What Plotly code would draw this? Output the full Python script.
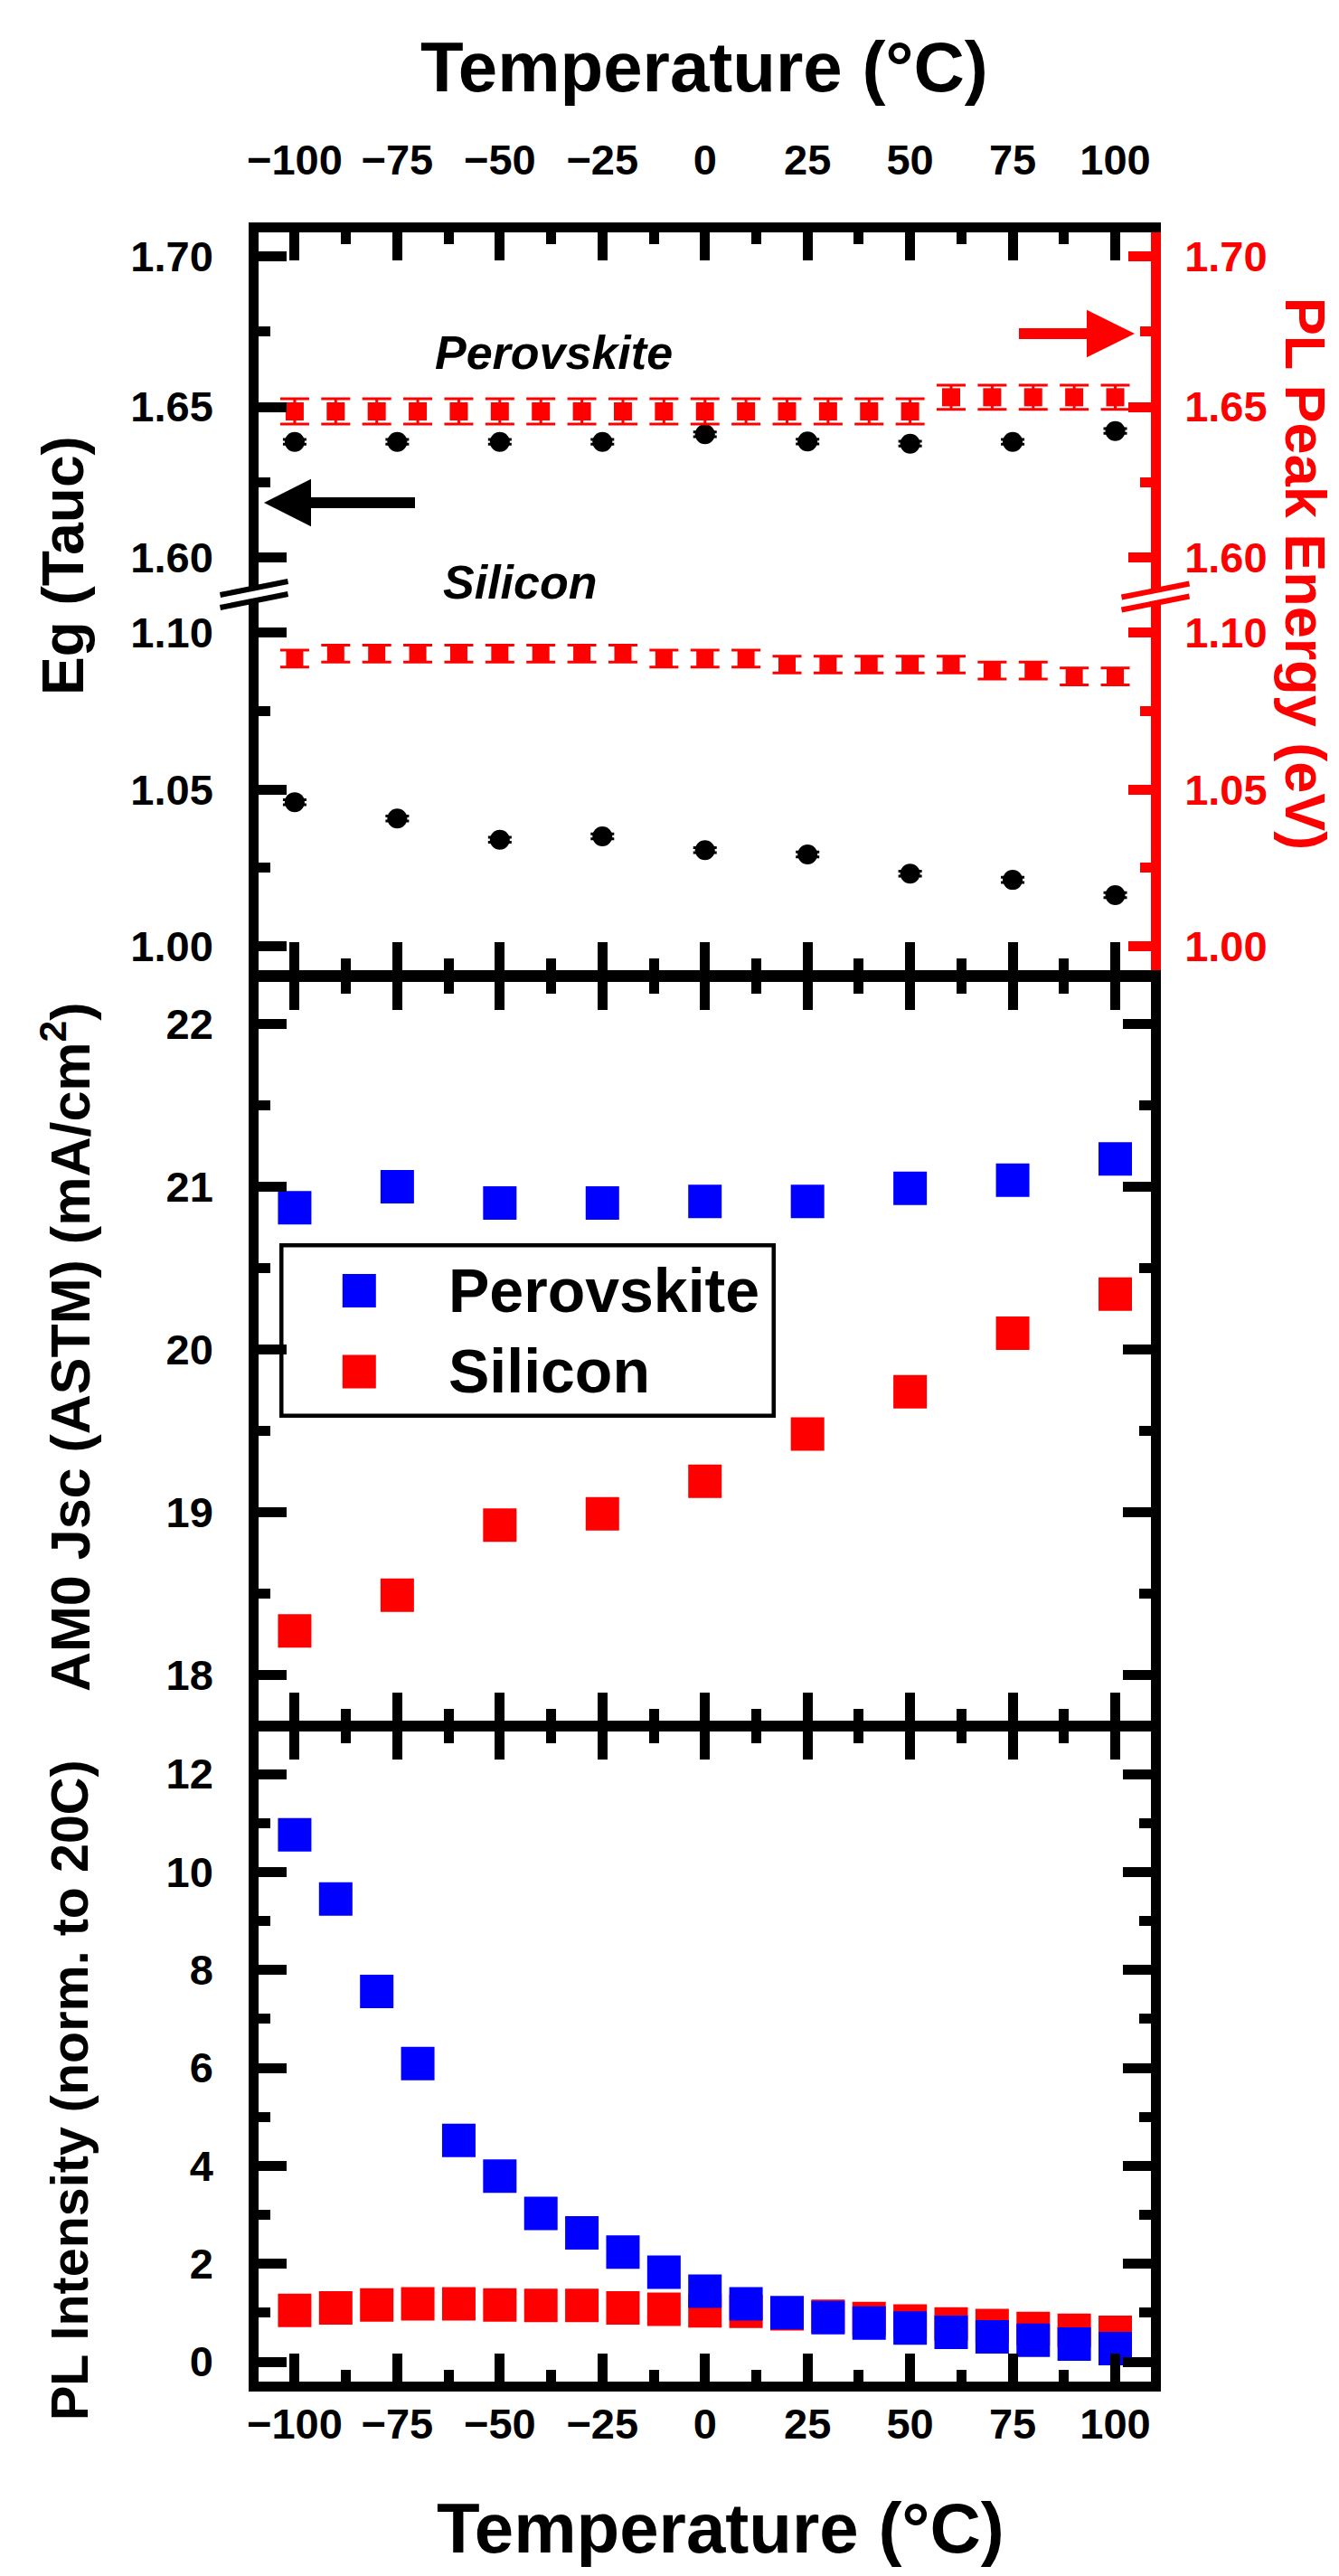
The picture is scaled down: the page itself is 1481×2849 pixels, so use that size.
import plotly.graph_objects as go

# ---------------- data ----------------
temp_coarse = [-100, -75, -50, -25, 0, 25, 50, 75, 100]
temp_fine = [-100, -90, -80, -70, -60, -50, -40, -30, -20, -10, 0,
             10, 20, 30, 40, 50, 60, 70, 80, 90, 100]

eg_tauc_perovskite = [1.6384, 1.6384, 1.6384, 1.6384, 1.6409, 1.6385, 1.6378, 1.6384, 1.6420]
eg_tauc_perovskite_err = [0.0008, 0.0008, 0.0008, 0.0008, 0.0008, 0.0008, 0.0008, 0.0008, 0.0008]
eg_tauc_silicon = [1.0460, 1.0408, 1.0340, 1.0351, 1.0307, 1.0293, 1.0232, 1.0212, 1.0163]
eg_tauc_silicon_err = [0.0008, 0.0008, 0.0008, 0.0008, 0.0008, 0.0008, 0.0008, 0.0008, 0.0008]

pl_peak_perovskite = [1.6485, 1.6485, 1.6485, 1.6485, 1.6485, 1.6485, 1.6485, 1.6485, 1.6485,
                      1.6485, 1.6485, 1.6485, 1.6485, 1.6485, 1.6485, 1.6485,
                      1.6532, 1.6532, 1.6532, 1.6532, 1.6532]
pl_peak_perovskite_err = [0.0042, 0.0042, 0.0042, 0.0042, 0.0042, 0.0042, 0.0042, 0.0042, 0.0042,
                          0.0042, 0.0042, 0.0042, 0.0042, 0.0042, 0.0042, 0.0042,
                          0.0040, 0.0040, 0.0040, 0.0040, 0.0040]
pl_peak_silicon = [1.0918, 1.0934, 1.0934, 1.0934, 1.0934, 1.0934, 1.0934, 1.0934, 1.0934,
                   1.0918, 1.0918, 1.0918, 1.0899, 1.0899, 1.0899, 1.0899, 1.0899,
                   1.0880, 1.0880, 1.0861, 1.0861]
pl_peak_silicon_err = [0.0027, 0.0027, 0.0027, 0.0027, 0.0027, 0.0027, 0.0027, 0.0027, 0.0027,
                       0.0027, 0.0027, 0.0027, 0.0027, 0.0027, 0.0027, 0.0027, 0.0027,
                       0.0027, 0.0027, 0.0027, 0.0027]

jsc_perovskite = [20.87, 21.00, 20.90, 20.90, 20.91, 20.91, 20.99, 21.04, 21.17]
jsc_silicon = [18.27, 18.49, 18.92, 18.99, 19.19, 19.48, 19.74, 20.10, 20.34]

pl_int_perovskite = [10.76, 9.45, 7.56, 6.09, 4.52, 3.79, 3.03, 2.63, 2.24, 1.83, 1.44,
                     1.18, 1.00, 0.90, 0.79, 0.69, 0.60, 0.51, 0.44, 0.36, 0.27]
pl_int_silicon = [1.05, 1.10, 1.16, 1.18, 1.18, 1.16, 1.15, 1.15, 1.10, 1.07, 1.04,
                  1.03, 0.98, 0.93, 0.88, 0.83, 0.77, 0.74, 0.68, 0.64, 0.60]

legend_labels = ["Perovskite", "Silicon"]

# ---------------- geometry / style ----------------
FIG_W, FIG_H = 1481, 2849
L, R, T, B = 286, 1273, 257, 2634
W, H = R - L, B - T

def X(px):
    return (px - L) / W

def Y(py):
    return (B - py) / H

def dom(p_top, p_bot):
    return [Y(p_bot), Y(p_top)]

FONT = "Liberation Sans, Arial, sans-serif"
RED = "#ff0000"
BLUE = "#0000ff"
LW = 10.5
TW = 10.5
LEFT_STANDOFF = 30

def axis_style(color="black", major_len=31, minor_len=13, minor_dtick=None, **kw):
    d = dict(showline=True, linecolor=color, linewidth=LW, ticks="inside",
             ticklen=major_len, tickwidth=TW, tickcolor=color,
             showgrid=False, zeroline=False, automargin=False,
             tickfont=dict(family=FONT, size=47, color=color, weight="bold"),
             minor=dict(ticks="inside", ticklen=minor_len, tickwidth=TW,
                        tickcolor=color, dtick=minor_dtick, showgrid=False))
    d.update(kw)
    return d

x_range = [-108.8, 108.7]
y_up_range = [1.5879, 1.7079]
y_lo_range = [0.99238, 1.1124]
y_mid_range = [17.719, 22.258]
y_bot_range = [-0.406, 12.868]

fig = go.Figure()

# top panel, upper segment
fig.add_trace(go.Scatter(x=temp_fine, y=pl_peak_perovskite, xaxis="x", yaxis="y3",
                         mode="markers",
                         marker=dict(symbol="square", size=20, color=RED, line=dict(width=0)),
                         error_y=dict(type="data", array=pl_peak_perovskite_err, color=RED,
                                      thickness=3, width=16)))
fig.add_trace(go.Scatter(x=temp_coarse, y=eg_tauc_perovskite, xaxis="x", yaxis="y",
                         mode="markers",
                         marker=dict(symbol="circle", size=22, color="black", line=dict(width=0)),
                         error_y=dict(type="data", array=eg_tauc_perovskite_err, color="black",
                                      thickness=3, width=13)))
# top panel, lower segment
fig.add_trace(go.Scatter(x=temp_fine, y=pl_peak_silicon, xaxis="x2", yaxis="y4",
                         mode="markers",
                         marker=dict(symbol="square", size=19, color=RED, line=dict(width=0)),
                         error_y=dict(type="data", array=pl_peak_silicon_err, color=RED,
                                      thickness=3, width=16)))
fig.add_trace(go.Scatter(x=temp_coarse, y=eg_tauc_silicon, xaxis="x2", yaxis="y2",
                         mode="markers",
                         marker=dict(symbol="circle", size=22, color="black", line=dict(width=0)),
                         error_y=dict(type="data", array=eg_tauc_silicon_err, color="black",
                                      thickness=3, width=13)))
# middle panel
fig.add_trace(go.Scatter(x=temp_coarse, y=jsc_perovskite, xaxis="x3", yaxis="y5",
                         mode="markers", name=legend_labels[0],
                         marker=dict(symbol="square", size=37, color=BLUE, line=dict(width=0))))
fig.add_trace(go.Scatter(x=temp_coarse, y=jsc_silicon, xaxis="x3", yaxis="y5",
                         mode="markers", name=legend_labels[1],
                         marker=dict(symbol="square", size=37, color=RED, line=dict(width=0))))
# bottom panel (silicon drawn first, perovskite on top)
fig.add_trace(go.Scatter(x=temp_fine, y=pl_int_silicon, xaxis="x4", yaxis="y6",
                         mode="markers",
                         marker=dict(symbol="square", size=37, color=RED, line=dict(width=0))))
fig.add_trace(go.Scatter(x=temp_fine, y=pl_int_perovskite, xaxis="x4", yaxis="y6",
                         mode="markers",
                         marker=dict(symbol="square", size=37, color=BLUE, line=dict(width=0))))

d_up = dom(257, 657)
d_lo = dom(657, 1073)
d_mid = dom(1086, 1903)
d_bot = dom(1915, 2634)

fig.update_layout(
    width=FIG_W, height=FIG_H,
    margin=dict(l=L, r=FIG_W - R, t=T, b=FIG_H - B, pad=0, autoexpand=False),
    paper_bgcolor="white", plot_bgcolor="rgba(0,0,0,0)",
    showlegend=False,
    xaxis=axis_style(range=x_range, anchor="y", side="top", dtick=25, tick0=0,
                     minor_dtick=12.5, showticklabels=True, ticklabelstandoff=34),
    xaxis2=axis_style(range=x_range, anchor="y2", side="bottom", dtick=25, tick0=0,
                      minor_dtick=12.5, showticklabels=False, matches="x"),
    xaxis3=axis_style(range=x_range, anchor="y5", side="bottom", dtick=25, tick0=0,
                      minor_dtick=12.5, showticklabels=False, mirror="allticks", matches="x"),
    xaxis4=axis_style(range=x_range, anchor="y6", side="bottom", dtick=25, tick0=0,
                      minor_dtick=12.5, showticklabels=True, mirror="allticks", matches="x",
                      ticklabelstandoff=-4),
    yaxis=axis_style(range=y_up_range, domain=d_up, anchor="x", side="left", dtick=0.05,
                     tick0=0, minor_dtick=0.025, tickformat=".2f",
                     ticklabelstandoff=LEFT_STANDOFF),
    yaxis2=axis_style(range=y_lo_range, domain=d_lo, anchor="x2", side="left", dtick=0.05,
                      tick0=0, minor_dtick=0.025, tickformat=".2f",
                      ticklabelstandoff=LEFT_STANDOFF),
    yaxis3=axis_style(color=RED, major_len=25, minor_len=12, range=y_up_range,
                      overlaying="y", anchor="x", side="right", dtick=0.05, tick0=0,
                      minor_dtick=0.025, tickformat=".2f", ticklabelstandoff=17),
    yaxis4=axis_style(color=RED, major_len=25, minor_len=12, range=y_lo_range,
                      overlaying="y2", anchor="x2", side="right", dtick=0.05, tick0=0,
                      minor_dtick=0.025, tickformat=".2f", ticklabelstandoff=17),
    yaxis5=axis_style(range=y_mid_range, domain=d_mid, anchor="x3", side="left", dtick=1,
                      tick0=0, minor_dtick=0.5, mirror="allticks",
                      ticklabelstandoff=LEFT_STANDOFF),
    yaxis6=axis_style(range=y_bot_range, domain=d_bot, anchor="x4", side="left", dtick=2,
                      tick0=0, minor_dtick=1, mirror="allticks",
                      ticklabelstandoff=LEFT_STANDOFF),
)

shapes = []
# axis break marks
def break_mark(cx, cy, color):
    hl, slope, off = 37.5, 0.2, 7
    out = []
    xs = [cx - 9, cx + 9]
    pts = [(xs[0], cy - off + slope * 9), (xs[1], cy - off - slope * 9),
           (xs[1], cy + off - slope * 9), (xs[0], cy + off + slope * 9)]
    path = "M " + " L ".join(f"{X(a):.6f},{Y(b):.6f}" for a, b in pts) + " Z"
    out.append(dict(type="path", xref="paper", yref="paper", path=path,
                    fillcolor="white", line=dict(width=0), layer="above"))
    for s in (-1, 1):
        out.append(dict(type="line", xref="paper", yref="paper",
                        x0=X(cx - hl), y0=Y(cy + s * off + slope * hl),
                        x1=X(cx + hl), y1=Y(cy + s * off - slope * hl),
                        line=dict(color=color, width=6), layer="above"))
    return out

shapes += break_mark(281, 657.5, "black")
shapes += break_mark(1278, 660, RED)

# axis-pointing arrows
def arrow(tail, tip, yc, head_base, head_half, shaft_half, color):
    pts = [(tip, yc), (head_base, yc - head_half), (head_base, yc - shaft_half),
           (tail, yc - shaft_half), (tail, yc + shaft_half), (head_base, yc + shaft_half),
           (head_base, yc + head_half)]
    path = "M " + " L ".join(f"{X(a):.6f},{Y(b):.6f}" for a, b in pts) + " Z"
    return dict(type="path", xref="paper", yref="paper", path=path,
                fillcolor=color, line=dict(width=0), layer="above")

shapes.append(arrow(459, 292, 556, 344, 26.3, 5.9, "black"))
shapes.append(arrow(1127, 1255, 369, 1202, 26.3, 5.9, RED))

# custom legend (large symbols, framed box)
shapes.append(dict(type="rect", xref="paper", yref="paper",
                   x0=X(311.25), x1=X(855.75), y0=Y(1565.75), y1=Y(1377.25),
                   line=dict(color="black", width=4.5), fillcolor="rgba(0,0,0,0)"))
for yc, col in ((1427.5, BLUE), (1517, RED)):
    shapes.append(dict(type="rect", xref="paper", yref="paper",
                       x0=X(397.3 - 18.5), x1=X(397.3 + 18.5),
                       y0=Y(yc + 18.5), y1=Y(yc - 18.5),
                       line=dict(width=0), fillcolor=col))

ann = []
def text(s, px, py, size, color="black", angle=0, xanchor="center", italic=False):
    ann.append(dict(text=s, xref="paper", yref="paper", x=X(px), y=Y(py),
                    xanchor=xanchor, yanchor="middle", showarrow=False, textangle=angle,
                    font=dict(family=FONT, size=size, color=color, weight="bold",
                              style="italic" if italic else "normal")))

text("Temperature (°C)", 779, 74, 78)
text("Temperature (°C)", 797, 2796, 78)
text("Eg (Tauc)", 70, 626, 64, angle=-90)
text("PL Peak Energy (eV)", 1444, 634.7, 63, color=RED, angle=90)
text("AM0 Jsc (ASTM) (mA/cm<sup>2</sup>)", 73, 1490, 61, angle=-90)
text("PL Intensity (norm. to 20C)", 77, 2312, 57.5, angle=-90)
text("Perovskite", 612, 390, 52, italic=True)
text("Silicon", 575, 644, 52, italic=True)
text(legend_labels[0], 494, 1427, 68, xanchor="left")
text(legend_labels[1], 494, 1516, 68, xanchor="left")

fig.update_layout(shapes=shapes, annotations=ann)

fig.write_html("out.html", config={"displayModeBar": False},
               post_script="document.body.style.margin='0px';"
                           "document.body.style.overflow='hidden';")
